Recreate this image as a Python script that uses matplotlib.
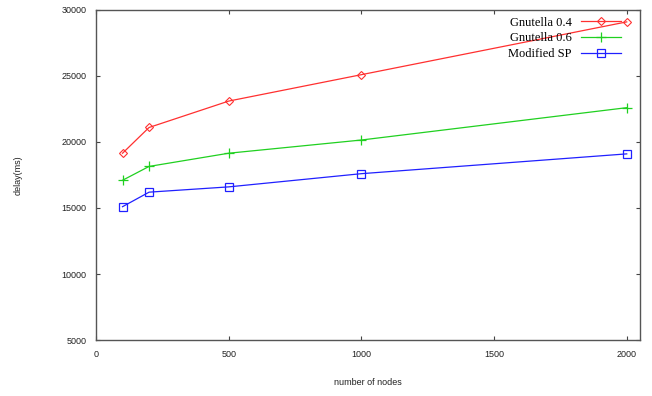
import matplotlib
matplotlib.use("Agg")
import matplotlib.pyplot as plt

# data
nodes = [100, 200, 500, 1000, 2000]
gnutella_04 = [19150, 21100, 23100, 25100, 29100]
gnutella_06 = [17100, 18150, 19150, 20150, 22600]
modified_sp = [15100, 16200, 16600, 17600, 19100]

x_ticks = [0, 500, 1000, 1500, 2000]
y_ticks = [5000, 10000, 15000, 20000, 25000, 30000]

fig = plt.figure(figsize=(6.52, 3.96), dpi=100)
ax = fig.add_axes([96 / 652, 1 - 340 / 396, 544 / 652, 330 / 396])

ax.plot(nodes, gnutella_04, "-", color="#ff3030", linewidth=0.9,
        marker="D", markersize=3.6, markerfacecolor="none", markeredgewidth=0.8,
        label="Gnutella 0.4")
ax.plot(nodes, gnutella_06, "-", color="#20d020", linewidth=0.9,
        marker="+", markersize=7, markeredgewidth=0.9,
        label="Gnutella 0.6")
ax.plot(nodes, modified_sp, "-", color="#2020ff", linewidth=0.9,
        marker="s", markersize=6, markerfacecolor="none", markeredgewidth=0.9,
        label="Modified SP")

ax.set_xlim(0, 2050)
ax.set_ylim(5000, 30000)
ax.set_xticks(x_ticks)
ax.set_yticks(y_ticks)

tick_font = dict(family="Liberation Sans", size=6.5, color="#222222")
ax.set_xticklabels([str(v) for v in x_ticks], **tick_font)
ax.set_yticklabels([str(v) for v in y_ticks], **tick_font)
ax.tick_params(direction="in", length=3, width=0.8, color="#444444",
               top=True, right=True, pad=7)

for sp in ax.spines.values():
    sp.set_color("#555555")
    sp.set_linewidth(1.0)

ax.set_xlabel("number of nodes", family="Liberation Sans", size=6.5,
              color="#222222", labelpad=14)
ax.set_ylabel("delay(ms)", family="Liberation Sans", size=6.5,
              color="#222222")
ax.yaxis.set_label_coords(-0.135, 0.5)

leg = ax.legend(loc="upper right", bbox_to_anchor=(0.975, 0.995),
                frameon=False, markerfirst=False, handlelength=3.2,
                handletextpad=0.8, labelspacing=0.3, borderaxespad=0,
                prop=dict(family="Liberation Serif", size=9))

fig.savefig("out.png", dpi=100, facecolor="white")
